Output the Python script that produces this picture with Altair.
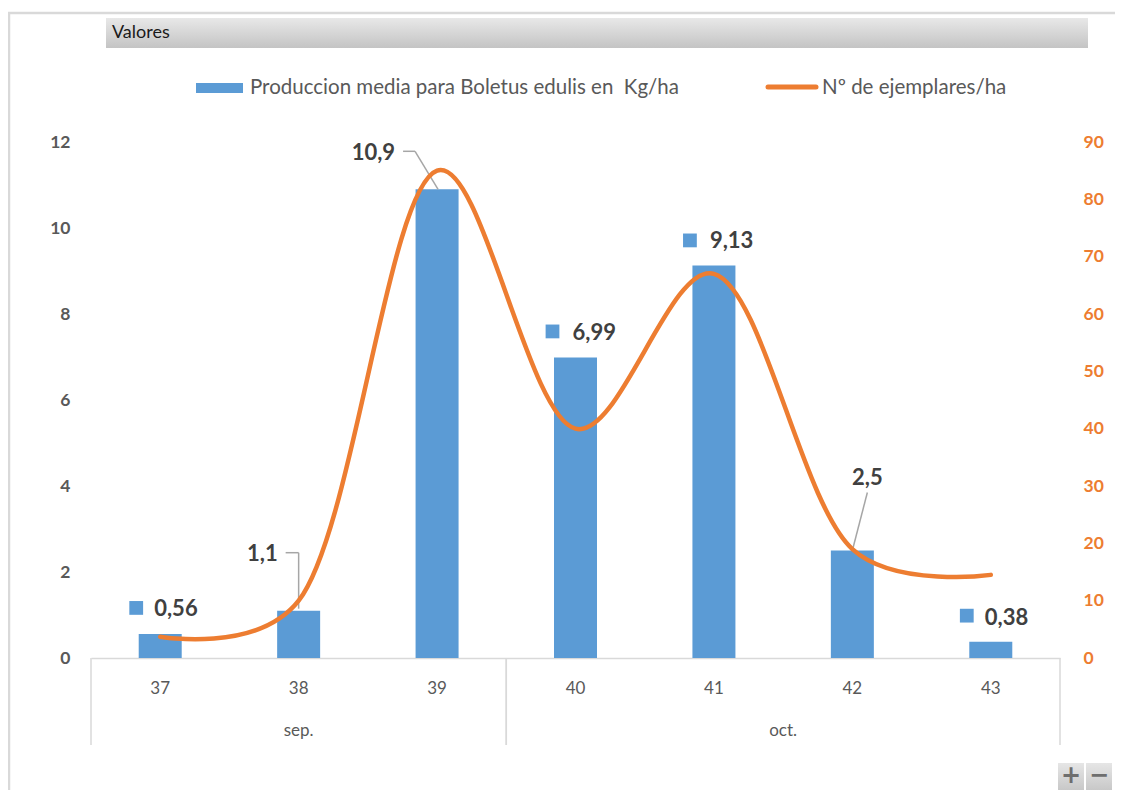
import altair as alt
import pandas as pd

# ---- data ----
weeks = [37, 38, 39, 40, 41, 42, 43]
months = ["sep.", "sep.", "sep.", "oct.", "oct.", "oct.", "oct."]
produccion = [0.56, 1.1, 10.9, 6.99, 9.13, 2.5, 0.38]
ejemplares = [3.7, 10, 85, 40, 67, 19, 14.5]
series_names = ["Produccion media para Boletus edulis en  Kg/ha", "Nº de ejemplares/ha"]
panel_title = "Valores"

df = pd.DataFrame({
    "i": list(range(len(weeks))),
    "week": [str(w) for w in weeks],
    "month": months,
    "prod": produccion,
    "n": ejemplares,
    "lab": [str(v).replace(".", ",") for v in produccion],
})
mdf = df.groupby("month", sort=False).agg(lo=("i", "min"), hi=("i", "max"), c=("i", "mean")).reset_index()

BLUE = "#5B9BD5"
ORANGE = "#ED7D31"
GRAY = "#595959"
DARK = "#404040"
FONT = "Lato"
W, H = 969, 516
RP = 55

xscale = alt.Scale(domain=[-0.5, len(weeks) - 0.5], nice=False, zero=False, padding=0)
x_axis = alt.Axis(domain=True, domainColor="#D9D9D9", domainWidth=1.5, ticks=False,
                  labels=False, grid=False, title=None)
X = alt.X("i:Q", scale=xscale, axis=x_axis)
yl_axis = alt.Axis(values=list(range(0, 13, 2)), grid=False, domain=False, ticks=False,
                   labelPadding=21, labelFont=FONT, labelFontSize=17.5, labelFontWeight="bold",
                   labelColor=GRAY, title=None)
YL = alt.Y("prod:Q", scale=alt.Scale(domain=[0, 12], nice=False), axis=yl_axis)

base = alt.Chart(df)
one = alt.Data(values=[{"k": 0}])

bars = base.mark_bar(width=43, color=BLUE).encode(x=X, y=YL)
layers = [bars]

LBL = dict(font=FONT, fontSize=22, fontWeight="bold", color=DARK, baseline="middle")

# data labels (placement styles only)
key_labels = {0: ((-24, -26), (-6, -25)), 3: ((-23, -26), (-3, -24)),
              4: ((-24, -25), (-4, -24)), 6: ((-24, -26), (-6, -24))}
for idx, (sq, tx) in key_labels.items():
    b = base.transform_filter(alt.datum.i == idx)
    layers.append(b.mark_square(size=190, color=BLUE, opacity=1, filled=True,
                                xOffset=sq[0], yOffset=sq[1]).encode(x=X, y=YL))
    layers.append(b.mark_text(align="left", dx=tx[0], dy=tx[1], **LBL).encode(x=X, y=YL, text="lab:N"))

leader_labels = {
    1: ("right", (-21, -57), [(-13, -58, 0, -58), (0, -58, 0, -2)]),
    2: ("right", (-42, -36), [(-34, -38, -22, -38), (-22, -38, 1, 0)]),
    5: ("center", (15, -73), [(15, -58, 0, 0)]),
}
for idx, (al, tx, segs) in leader_labels.items():
    b = base.transform_filter(alt.datum.i == idx)
    for (x1, y1, x2, y2) in segs:
        layers.append(b.mark_rule(color="#A6A6A6", strokeWidth=1.5, xOffset=x1, yOffset=y1,
                                  x2Offset=x2, y2Offset=y2)
                      .encode(x=X, y=YL, x2="i:Q", y2="prod:Q"))
    layers.append(b.mark_text(align=al, dx=tx[0], dy=tx[1], **LBL).encode(x=X, y=YL, text="lab:N"))

# category axis (two-level, pivot style)
week_lab = base.mark_text(font=FONT, fontSize=17, color=GRAY, baseline="middle").encode(
    x=X, y=alt.value(547), text="week:N")
mchart = alt.Chart(mdf)
month_lab = mchart.mark_text(font=FONT, fontSize=17, color=GRAY, baseline="middle").encode(
    x=alt.X("c:Q", scale=xscale, axis=x_axis), y=alt.value(589), text="month:N")
sep_lo = mchart.transform_calculate(b="datum.lo - 0.5").mark_rule(color="#D9D9D9", strokeWidth=1.5).encode(
    x=alt.X("b:Q", scale=xscale, axis=x_axis), y=alt.value(H), y2=alt.value(H + 87))
sep_hi = mchart.transform_calculate(b="datum.hi + 0.5").mark_rule(color="#D9D9D9", strokeWidth=1.5).encode(
    x=alt.X("b:Q", scale=xscale, axis=x_axis), y=alt.value(H), y2=alt.value(H + 87))
layers += [week_lab, month_lab, sep_lo, sep_hi]

# decorations: frame, title bar, legend, zoom buttons
grad = alt.Gradient(gradient="linear", x1=0, x2=0, y1=0, y2=1,
                    stops=[alt.GradientStop(color="#E8E8E8", offset=0),
                           alt.GradientStop(color="#C4C4C4", offset=1)])
frame_top = alt.Chart(one).mark_rule(color="#D9D9D9", strokeWidth=2.5).encode(
    x=alt.value(-83), x2=alt.value(W + RP), y=alt.value(-129))
frame_left = alt.Chart(one).mark_rule(color="#D9D9D9", strokeWidth=2.5).encode(
    x=alt.value(-82), y=alt.value(-129), y2=alt.value(H + 150))
title_bar = alt.Chart(one).mark_rect(color=grad).encode(
    x=alt.value(15), x2=alt.value(997), y=alt.value(-124), y2=alt.value(-94))
title_txt = alt.Chart(one).mark_text(font=FONT, fontSize=18, color="#1a1a1a", align="left",
                                     baseline="middle", text=panel_title).encode(
    x=alt.value(21), y=alt.value(-109))
leg_rect = alt.Chart(one).mark_rect(color=BLUE).encode(
    x=alt.value(105), x2=alt.value(152), y=alt.value(-59), y2=alt.value(-49))
leg_t1 = alt.Chart(one).mark_text(font=FONT, fontSize=20.5, color=GRAY, align="left", baseline="middle",
                                  text=series_names[0].replace("  ", " \u00a0")).encode(
    x=alt.value(159), y=alt.value(-54))
leg_line = alt.Chart(one).mark_rule(color=ORANGE, strokeWidth=5, strokeCap="round").encode(
    x=alt.value(677), x2=alt.value(725), y=alt.value(-55))
leg_t2 = alt.Chart(one).mark_text(font=FONT, fontSize=20.5, color=GRAY, align="left", baseline="middle",
                                  text=series_names[1]).encode(x=alt.value(731), y=alt.value(-54))
bgrad = alt.Gradient(gradient="linear", x1=0, x2=0, y1=0, y2=1,
                     stops=[alt.GradientStop(color="#E6E6E6", offset=0),
                            alt.GradientStop(color="#C8C8C8", offset=1)])
btn1 = alt.Chart(one).mark_rect(color=bgrad).encode(
    x=alt.value(967), x2=alt.value(993), y=alt.value(621), y2=alt.value(648))
btn2 = alt.Chart(one).mark_rect(color=bgrad).encode(
    x=alt.value(995), x2=alt.value(1021), y=alt.value(621), y2=alt.value(648))
btn1t = alt.Chart(one).mark_text(font="DejaVu Sans", fontSize=24, fontWeight="bold", color="#6E6E6E",
                                 baseline="middle", text="+").encode(x=alt.value(980), y=alt.value(634))
btn2t = alt.Chart(one).mark_text(font="DejaVu Sans", fontSize=24, fontWeight="bold", color="#6E6E6E",
                                 baseline="middle", text="−").encode(x=alt.value(1008), y=alt.value(634))
layers += [frame_top, frame_left, title_bar, title_txt, leg_rect, leg_t1, leg_line, leg_t2,
           btn1, btn2, btn1t, btn2t]

left = alt.layer(*layers)

line = base.mark_line(interpolate="catmull-rom", tension=0.25, color=ORANGE, strokeWidth=4.5,
                      strokeCap="round").encode(
    x=X,
    y=alt.Y("n:Q", scale=alt.Scale(domain=[0, 90], nice=False),
            axis=alt.Axis(orient="right", values=list(range(0, 91, 10)), grid=False, domain=False,
                          ticks=False, labelPadding=23, labelFont=FONT, labelFontSize=17.5,
                          labelFontWeight="bold", labelColor=ORANGE, title=None)),
)

chart = alt.layer(left, line).resolve_scale(y="independent").properties(
    width=W, height=H,
    autosize=alt.AutoSizeParams(type="none"),
    padding={"left": 83, "top": 134, "right": RP, "bottom": 132},
    background="white",
).configure_view(stroke="transparent", strokeWidth=0)

chart.save("out.html", embed_options={"renderer": "svg", "actions": False})
